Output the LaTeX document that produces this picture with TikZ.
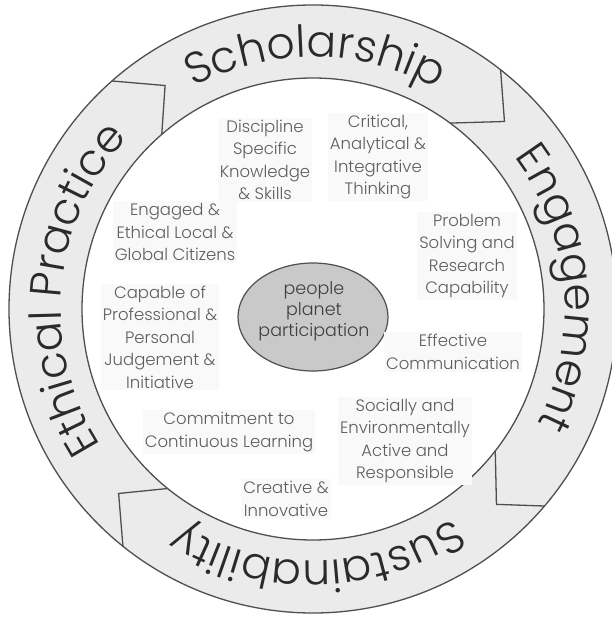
\documentclass[tikz,border=0pt]{standalone}
\usepackage{fontspec}
\setmainfont{Poppins Light}
\usetikzlibrary{decorations.text,shapes.geometric}

\definecolor{ringfill}{HTML}{EBEBEB}
\definecolor{edgegrey}{HTML}{4F4F4F}
\definecolor{labelgrey}{HTML}{5E5E5E}
\definecolor{ringtextcol}{HTML}{2A2A2A}
\definecolor{hubfill}{HTML}{C9C9C9}
\definecolor{hubtextcol}{HTML}{3E3E3E}
\definecolor{labelbg}{HTML}{F9F9F9}

\newcommand\ringfontsel{\fontsize{44}{44}\selectfont}

\begin{document}
\begin{tikzpicture}[x=1pt,y=1pt,
  attribute/.style={align=center, text=labelgrey, fill=labelbg, inner sep=2pt,
    font=\fontsize{16.5}{22.5}\selectfont},
  ringlabel/.style={decorate, decoration={text along path, text align=center,
    text color=ringtextcol, text={|\ringfontsel|#1}}},
  ringedge/.style={draw=edgegrey, line width=1.3pt},
  divider/.style={draw=edgegrey, line width=1.3pt, line join=miter},
]
\useasboundingbox (-313,-309) rectangle (299,309);
\fill[white] (-313,-309) rectangle (299,309);

% the ring of four arrows
\fill[ringfill, even odd rule] (0,0) circle[radius=304pt] (0,0) circle[radius=231pt];
\draw[ringedge] (0,0) circle[radius=304pt];
\draw[ringedge] (0,0) circle[radius=231pt];

% arrow heads between the segments (outer -> tip -> inner)
\draw[divider] (131.4:304pt) -- (123.5:268pt) -- (130.9:231pt);
\draw[divider] (51.9:304pt) -- (44.4:268pt) -- (53.6:231pt);
\draw[divider] (-40.4:304pt) -- (-46.8:268pt) -- (-37.9:231pt);
\draw[divider] (231.3:304pt) -- (223.5:268pt) -- (231.0:231pt);

% segment titles, running clockwise with tops outward
\path[ringlabel=Scholarship] (129.5:252pt) arc[start angle=129.5, end angle=49.5, radius=252pt];
\path[ringlabel=Engagement] (50:252pt) arc[start angle=50, end angle=-40, radius=252pt];
\path[ringlabel=Sustainability] (-39:252pt) arc[start angle=-39, end angle=-139, radius=252pt];
\path[ringlabel=Ethical Practice] (235:252pt) arc[start angle=235, end angle=115, radius=252pt];

% centre
\node[ellipse, draw=edgegrey, fill=hubfill, line width=1.2pt,
  minimum width=150pt, minimum height=108pt] (hub) at (0,-8) {};
\node[align=center, text=hubtextcol, font=\fontsize{17.5}{21}\selectfont]
  (hubtext) at (1,-2) {people\\planet\\participation};

% graduate attributes
\node[attribute] (discipline) at (-48,149) {Discipline\\Specific\\Knowledge\\\& Skills};
\node[attribute] (critical) at (65,152) {Critical,\\Analytical \&\\Integrative\\Thinking};
\node[attribute] (problem) at (154,53) {Problem\\Solving and\\Research\\Capability};
\node[attribute] (engaged) at (-138,77) {Engaged \&\\Ethical Local \&\\Global Citizens};
\node[attribute] (capable) at (-153,-28) {Capable of\\Professional \&\\Personal\\Judgement \&\\Initiative};
\node[attribute] (effective) at (140,-43) {Effective\\Communication};
\node[attribute] (social) at (92,-132) {Socially and\\Environmentally\\Active and\\Responsible};
\node[attribute] (commitment) at (-84,-123) {Commitment to\\Continuous Learning};
\node[attribute] (creative) at (-27,-190) {Creative \&\\Innovative};
\end{tikzpicture}
\end{document}
